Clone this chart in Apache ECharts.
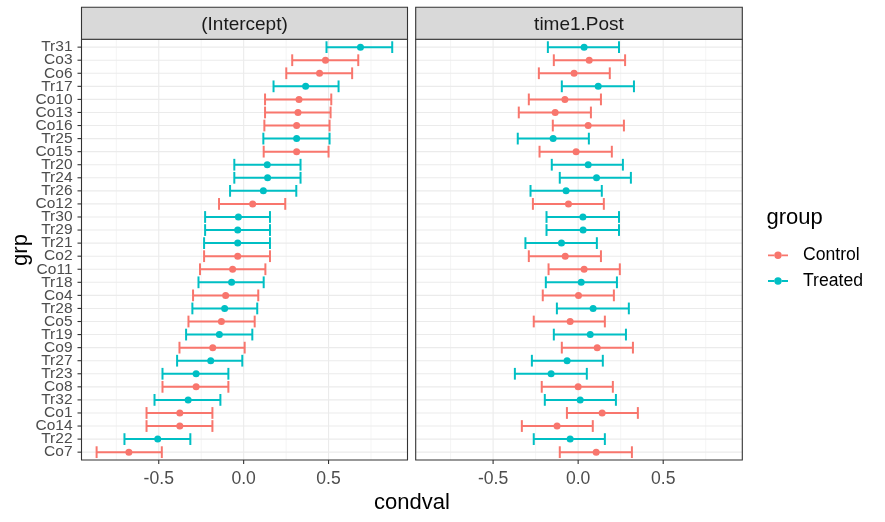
<!DOCTYPE html>
<html>
<head>
<meta charset="utf-8">
<script src="https://cdn.jsdelivr.net/npm/echarts@6/dist/echarts.min.js"></script>
<style>html,body{margin:0;padding:0;background:#fff}#c{width:885px;height:522px}</style>
</head>
<body>
<div id="c"></div>
<script>
// categories, top to bottom
const cats = ['Tr31','Co3','Co6','Tr17','Co10','Co13','Co16','Tr25','Co15','Tr20','Tr24','Tr26','Co12','Tr30','Tr29','Tr21','Co2','Co11','Tr18','Co4','Tr28','Co5','Tr19','Co9','Tr27','Tr23','Co8','Tr32','Co1','Co14','Tr22','Co7'];
// (Intercept) panel
const intEst = [0.688,0.482,0.447,0.365,0.326,0.320,0.312,0.312,0.312,0.139,0.141,0.116,0.053,-0.031,-0.035,-0.035,-0.035,-0.065,-0.071,-0.106,-0.112,-0.131,-0.143,-0.182,-0.194,-0.280,-0.280,-0.327,-0.376,-0.376,-0.506,-0.676];
const intLo  = [0.488,0.286,0.251,0.176,0.126,0.126,0.122,0.116,0.118,-0.055,-0.055,-0.080,-0.145,-0.227,-0.227,-0.233,-0.233,-0.257,-0.266,-0.298,-0.302,-0.325,-0.339,-0.378,-0.392,-0.478,-0.478,-0.525,-0.572,-0.572,-0.702,-0.866];
const intHi  = [0.875,0.675,0.639,0.559,0.516,0.512,0.506,0.506,0.500,0.335,0.335,0.310,0.245,0.155,0.155,0.155,0.155,0.128,0.118,0.086,0.080,0.065,0.051,0.006,-0.008,-0.090,-0.090,-0.137,-0.184,-0.184,-0.314,-0.482];
// time1.Post panel
const postEst = [0.035,0.065,-0.024,0.118,-0.078,-0.135,0.059,-0.147,-0.012,0.059,0.108,-0.071,-0.057,0.028,0.029,-0.098,-0.076,0.035,0.018,0.002,0.088,-0.047,0.071,0.112,-0.065,-0.159,0.000,0.012,0.141,-0.124,-0.047,0.106];
const postLo  = [-0.178,-0.143,-0.231,-0.096,-0.290,-0.349,-0.149,-0.355,-0.227,-0.155,-0.108,-0.280,-0.266,-0.186,-0.186,-0.310,-0.290,-0.174,-0.190,-0.208,-0.125,-0.261,-0.143,-0.096,-0.272,-0.372,-0.214,-0.196,-0.066,-0.331,-0.261,-0.108];
const postHi  = [0.240,0.276,0.186,0.328,0.134,0.075,0.269,0.063,0.198,0.263,0.310,0.139,0.151,0.240,0.240,0.110,0.134,0.245,0.228,0.210,0.298,0.157,0.281,0.322,0.145,0.051,0.204,0.222,0.351,0.086,0.157,0.316];
const panels = ['(Intercept)','time1.Post'];
const groups = ['Control','Treated'];
const xTicks = [-0.5, 0, 0.5];
const xMinor = [-0.75, -0.25, 0.25, 0.75];

const colors = {Control:'#F8766D', Treated:'#00BFC4'};
const FONT = '"Liberation Sans", Arial, sans-serif';
const XMIN = -0.955, XMAX = 0.965, YMIN = -0.6, YMAX = cats.length - 1 + 0.6;
const grids = [
  {left:81.5, top:39.3, width:326, height:420.7},
  {left:415.7, top:39.3, width:326.6, height:420.7}
];
const groupOf = c => c.startsWith('Co') ? 'Control' : 'Treated';
const panelData = [[intEst,intLo,intHi],[postEst,postLo,postHi]];
const idx = cats.map((c,i)=>i);
const evenIdx = idx.filter(i=>i%2===0), oddIdx = idx.filter(i=>i%2===1);

const xAxes = grids.map((g,i)=>({
  type:'value', gridIndex:i, min:XMIN, max:XMAX, position:'bottom',
  axisLine:{show:false, onZero:false}, splitLine:{show:false}, axisTick:{show:false},
  axisLabel:{show:true, customValues:xTicks, color:'#4D4D4D', fontSize:17.6, fontFamily:FONT, margin:10,
    showMinLabel:true, showMaxLabel:true,
    formatter:v=> v===0 ? '0.0' : v.toFixed(1)}
}));
function yAx(grid, vals, showLab){
  return {
    type:'value', gridIndex:grid, min:YMIN, max:YMAX, inverse:true, position:'left', offset:0,
    axisLine:{show:false, onZero:false}, splitLine:{show:false}, axisTick:{show:false},
    axisLabel:{show:showLab, customValues:vals, color:'#4D4D4D', fontSize:15.5, fontFamily:FONT, margin:9,
      showMinLabel:true, showMaxLabel:true,
      formatter:v=>cats[Math.round(v)]}
  };
}
const yAxes = [yAx(0, evenIdx, true), yAx(0, oddIdx, true), yAx(1, idx, false)];
const yIdxOf = p => p===0 ? 0 : 2;

const series = [];
grids.forEach((g,p)=>{
  const yi = yIdxOf(p);
  // grid lines + x ticks
  const vData = xTicks.map(v=>[v,0,1]).concat(xMinor.map(v=>[v,0,0]));
  series.push({
    type:'custom', xAxisIndex:p, yAxisIndex:yi, z:1, silent:true, clip:false,
    data:vData, encode:{x:0,y:1},
    renderItem:(params, api)=>{
      const v = api.value(0), major = api.value(2);
      const a = api.coord([v, YMIN]), b = api.coord([v, YMAX]);
      const ch = [{type:'line', shape:{x1:a[0],y1:a[1],x2:b[0],y2:b[1]},
        style:{stroke:'#EBEBEB', lineWidth: major ? 1.1 : 0.55}}];
      if (major) ch.push({type:'line', z2:50, shape:{x1:b[0],y1:b[1],x2:b[0],y2:b[1]+4},
        style:{stroke:'#333333', lineWidth:1.1}});
      return {type:'group', children:ch};
    }
  });
  series.push({
    type:'custom', xAxisIndex:p, yAxisIndex:yi, z:1, silent:true, clip:false,
    data:idx.map(i=>[0,i]), encode:{x:0,y:1},
    renderItem:(params, api)=>{
      const y = api.value(1);
      const a = api.coord([XMIN, y]), b = api.coord([XMAX, y]);
      const ch = [{type:'line', shape:{x1:a[0],y1:a[1],x2:b[0],y2:b[1]},
        style:{stroke:'#EBEBEB', lineWidth:1.1}}];
      if (p===0) ch.push({type:'line', shape:{x1:a[0]-4,y1:a[1],x2:a[0],y2:a[1]},
        style:{stroke:'#333333', lineWidth:1.1}});
      return {type:'group', children:ch};
    }
  });
  const [est, lo, hi] = panelData[p];
  groups.forEach(gr=>{
    const bars = [], pts = [];
    cats.forEach((c,i)=>{
      if (groupOf(c)!==gr) return;
      bars.push([lo[i], hi[i], i]);
      pts.push([est[i], i]);
    });
    series.push({
      name:gr, type:'custom', xAxisIndex:p, yAxisIndex:yi, z:2, silent:true,
      itemStyle:{color:colors[gr]},
      data:bars, encode:{x:[0,1], y:2},
      renderItem:(params, api)=>{
        const l = api.value(0), h = api.value(1), y = api.value(2);
        const a = api.coord([l,y]), b = api.coord([h,y]);
        const at = api.coord([l,y-0.45]), ab = api.coord([l,y+0.45]);
        const bt = api.coord([h,y-0.45]), bb = api.coord([h,y+0.45]);
        const st = {stroke:colors[gr], lineWidth:2};
        return {type:'group', children:[
          {type:'line', shape:{x1:a[0],y1:a[1],x2:b[0],y2:b[1]}, style:st},
          {type:'line', shape:{x1:at[0],y1:at[1],x2:ab[0],y2:ab[1]}, style:st},
          {type:'line', shape:{x1:bt[0],y1:bt[1],x2:bb[0],y2:bb[1]}, style:st}
        ]};
      }
    });
    series.push({
      name:gr, type:'scatter', xAxisIndex:p, yAxisIndex:yi, z:3, silent:true,
      symbol:'circle', symbolSize:7, itemStyle:{color:colors[gr], opacity:1},
      data:pts
    });
  });
});

const keyIcon = 'path://M0,3.1L6.2,3.1L6.2,4.9L0,4.9Z M13.8,3.1L20,3.1L20,4.9L13.8,4.9Z M6.3,4A3.7,3.7,0,1,0,13.7,4A3.7,3.7,0,1,0,6.3,4Z';

const graphic = [];
grids.forEach((g,p)=>{
  graphic.push({type:'rect', z:100, silent:true,
    shape:{x:g.left, y:g.top, width:g.width, height:g.height},
    style:{fill:'none', stroke:'#333333', lineWidth:1.1}});
  graphic.push({type:'rect', z:100, silent:true,
    shape:{x:g.left, y:7.3, width:g.width, height:g.top-7.3},
    style:{fill:'#D9D9D9', stroke:'#333333', lineWidth:1.1}});
  graphic.push({type:'text', z:101, silent:true,
    style:{text:panels[p], x:g.left+g.width/2, y:25.2, align:'center', verticalAlign:'middle',
      fill:'#1A1A1A', fontSize:19, fontFamily:FONT}});
});
graphic.push({type:'text', silent:true,
  style:{text:'condval', x:(grids[0].left+grids[1].left+grids[1].width)/2, y:503, align:'center', verticalAlign:'middle',
    fill:'#000', fontSize:22, fontFamily:FONT}});
graphic.push({type:'text', silent:true, x:21, y:250, rotation:Math.PI/2,
  style:{text:'grp', x:0, y:0, align:'center', verticalAlign:'middle',
    fill:'#000', fontSize:22, fontFamily:FONT}});
graphic.push({type:'text', silent:true,
  style:{text:'group', x:766.5, y:217.5, align:'left', verticalAlign:'middle',
    fill:'#000', fontSize:22, fontFamily:FONT}});

const option = {
  animation:false,
  backgroundColor:'#ffffff',
  grid: grids.map(g=>Object.assign({containLabel:false, show:false}, g)),
  xAxis: xAxes,
  yAxis: yAxes,
  legend:{
    orient:'vertical', left:768, top:245.3, padding:0, itemGap:5.7,
    itemWidth:20, itemHeight:8, selectedMode:false,
    data: groups.map(g=>({name:g, icon:keyIcon, itemStyle:{color:colors[g]}})),
    textStyle:{fontSize:17.6, fontFamily:FONT, color:'#000', lineHeight:20, padding:[0,0,0,10]}
  },
  graphic: graphic,
  series: series
};
const chart = echarts.init(document.getElementById('c'), null, {renderer:'canvas'});
chart.setOption(option);
</script>
</body>
</html>
